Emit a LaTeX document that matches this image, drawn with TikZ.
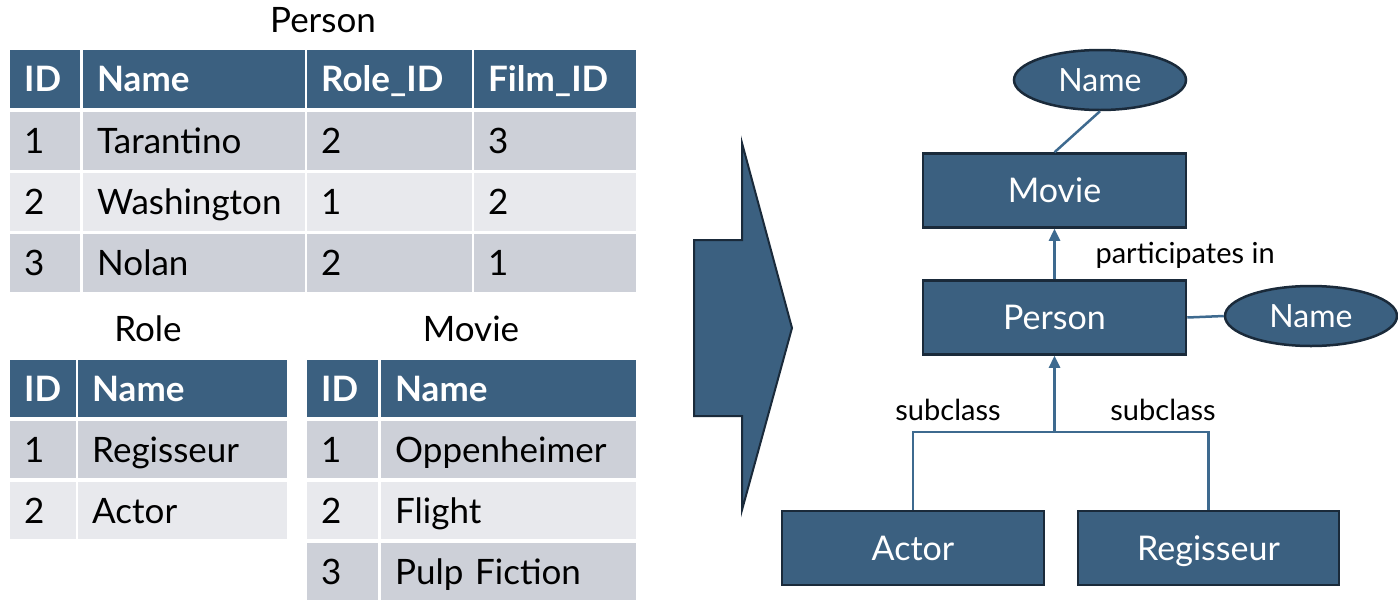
\documentclass[tikz,border=0pt]{standalone}
\usepackage{fontspec}
\setmainfont{Lato}
\usetikzlibrary{arrows.meta, shapes.geometric, positioning}

\definecolor{headblue}{RGB}{59,96,128}
\definecolor{rowdark}{RGB}{205,208,216}
\definecolor{rowlight}{RGB}{232,233,237}
\definecolor{boxline}{RGB}{26,42,58}
\definecolor{linkblue}{RGB}{62,106,143}

\begin{document}
\begin{tikzpicture}[
    x=1pt, y=-1pt,
    cell/.style={anchor=north west, inner xsep=14pt, inner ysep=0pt, minimum height=58pt, align=left, text height=25pt, text depth=0pt, font=\fontsize{35}{40}\selectfont},
    head/.style={cell, fill=headblue, text=white, font=\fontsize{35}{40}\selectfont\bfseries},
    title/.style={font=\fontsize{35}{40}\selectfont},
    entity/.style={rectangle, draw=boxline, line width=2.5pt, fill=headblue, text=white, minimum width=263pt, minimum height=74pt, text height=24.5pt, text depth=0pt, font=\fontsize{34}{40}\selectfont},
    attr/.style={ellipse, draw=boxline, line width=2.5pt, fill=headblue, text=white, minimum width=172pt, minimum height=60pt, inner sep=0pt, text height=23pt, text depth=0pt, font=\fontsize{32}{36}\selectfont},
    conn/.style={draw=linkblue, line width=2.5pt},
    arrow/.style={conn, -{Triangle[length=12pt, width=11pt]}},
    lbl/.style={font=\fontsize{29}{32}\selectfont}
]
\useasboundingbox (0,0) rectangle (1398,611);

% Person table
\node[title] (ptitle) at (323,20) {Person};
\node[head, text width=42pt] (ph-1) at (10,50) {ID};
\node[head, text width=194pt] (ph-2) at (83,50) {Name};
\node[head, text width=137pt] (ph-3) at (307,50) {Role\_ID};
\node[head, text width=134pt] (ph-4) at (474,50) {Film\_ID};
\foreach \y/\f/\a/\b/\c/\d [count=\i] in {112/rowdark/1/Tarantino/2/3, 173/rowlight/2/Washington/1/2, 234/rowdark/3/Nolan/2/1} {
  \node[cell, fill=\f, text width=42pt] (p\i-1) at (10,\y) {\a};
  \node[cell, fill=\f, text width=194pt] (p\i-2) at (83,\y) {\b};
  \node[cell, fill=\f, text width=137pt] (p\i-3) at (307,\y) {\c};
  \node[cell, fill=\f, text width=134pt] (p\i-4) at (474,\y) {\d};
}

% Role table
\node[title] (rtitle) at (148,329) {Role};
\node[head, minimum height=57pt, text width=38pt] (rh-1) at (10,360) {ID};
\node[head, minimum height=57pt, text width=181pt] (rh-2) at (78,360) {Name};
\foreach \y/\f/\a/\b [count=\i] in {421/rowdark/1/Regisseur, 482/rowlight/2/Actor} {
  \node[cell, minimum height=57pt, fill=\f, text width=38pt] (r\i-1) at (10,\y) {\a};
  \node[cell, minimum height=57pt, fill=\f, text width=181pt] (r\i-2) at (78,\y) {\b};
}

% Movie table
\node[title] (mtitle) at (471,329) {Movie};
\node[head, minimum height=57pt, text width=43pt] (mh-1) at (307,360) {ID};
\node[head, minimum height=57pt, text width=227pt] (mh-2) at (381,360) {Name};
\foreach \y/\f/\a/\b [count=\i] in {421/rowdark/1/Oppenheimer, 482/rowlight/2/Flight, 543/rowdark/3/Pulp Fiction} {
  \node[cell, minimum height=57pt, fill=\f, text width=43pt] (m\i-1) at (307,\y) {\a};
  \node[cell, minimum height=57pt, fill=\f, text width=227pt] (m\i-2) at (381,\y) {\b};
}

% Big arrow
\draw[fill=headblue, draw=boxline, line width=2pt, line join=miter]
  (694,240) -- (742,240) -- (742,143) -- (792,328) -- (742,510) -- (742,416) -- (694,416) -- cycle;

% ER model
\node[entity] (movie) at (1054.5,190.5) {Movie};
\node[entity] (person) at (1054.5,317.5) {Person};
\node[entity, minimum width=262pt] (actor) at (913,548) {Actor};
\node[entity, minimum width=261pt] (regisseur) at (1208.5,548) {Regisseur};
\node[attr] (mname) at (1100,80) {Name};
\node[attr] (pname) at (1311,316) {Name};
\coordinate (jn) at (1054.5,432);

\draw[conn] (mname.south) -- (movie.north);
\draw[arrow] (person.north) -- (movie.south);
\node[lbl, anchor=west] (partlbl) at (1092,255) {participates in};
\draw[conn] (person.east) -- (pname.west);

\draw[arrow] (jn) -- (person.south);
\draw[conn] (actor.north) |- (jn) -| (regisseur.north);
\node[lbl] (sublbl1) at (948,410) {subclass};
\node[lbl] (sublbl2) at (1163,410) {subclass};

\end{tikzpicture}
\end{document}
